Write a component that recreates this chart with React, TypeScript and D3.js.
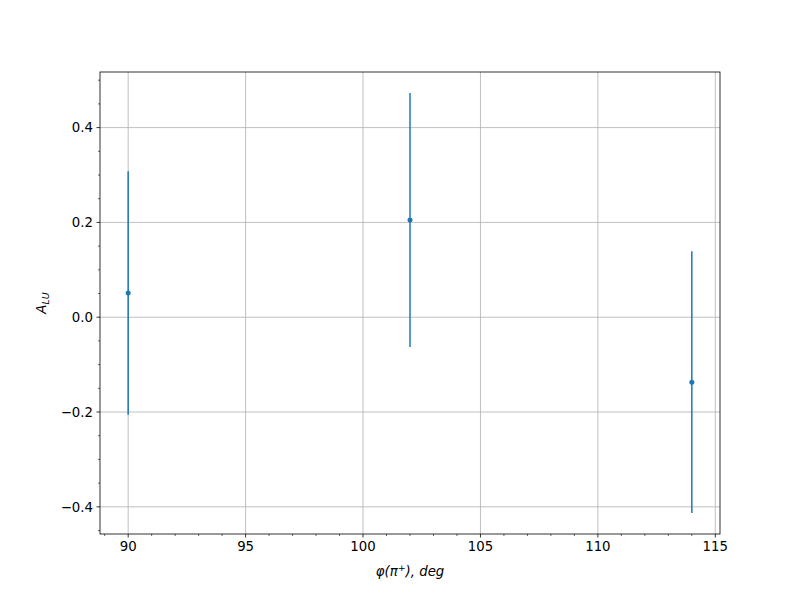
import React from "react";
import * as d3 from "d3";

const phi = [90, 102, 114];
const alu = [0.051, 0.205, -0.137];
const err = [0.257, 0.268, 0.276];
const xTicks = [90, 95, 100, 105, 110, 115];
const yTicks = [-0.4, -0.2, 0.0, 0.2, 0.4];

const W = 800, H = 600;
const L = 100, R = 720, T = 72, B = 534;
const C = "#1f77b4";

export default function App() {
  const x = d3.scaleLinear().domain([88.8, 115.2]).range([L, R]);
  const yMin = d3.min(alu.map((v, i) => v - err[i]))!;
  const yMax = d3.max(alu.map((v, i) => v + err[i]))!;
  const pad = (yMax - yMin) * 0.05;
  const y = d3.scaleLinear().domain([yMin - pad, yMax + pad]).range([B, T]);
  const xMinor = d3.range(89, 116, 1).filter((v) => v % 5 !== 0);
  const yMinor = d3.range(-0.45, 0.51, 0.05).filter((v) => Math.abs(Math.round(v * 20) % 4) !== 0 && v >= y.domain()[0] && v <= y.domain()[1]);
  const font = "DejaVu Sans, sans-serif";
  return (
    <svg width={W} height={H} style={{ position: "absolute", left: 0, top: 0 }} fontFamily={font}>
      <rect width={W} height={H} fill="white" />
      {xTicks.map((t) => (
        <line key={"gx" + t} x1={x(t)} x2={x(t)} y1={T} y2={B} stroke="#b0b0b0" strokeWidth={0.8} />
      ))}
      {yTicks.map((t) => (
        <line key={"gy" + t} x1={L} x2={R} y1={y(t)} y2={y(t)} stroke="#b0b0b0" strokeWidth={0.8} />
      ))}
      {phi.map((p, i) => (
        <g key={"e" + i}>
          <line x1={x(p)} x2={x(p)} y1={y(alu[i] - err[i])} y2={y(alu[i] + err[i])} stroke={C} strokeWidth={1.5} />
          <circle cx={x(p)} cy={y(alu[i])} r={2.5} fill={C} />
        </g>
      ))}
      <rect x={L} y={T} width={R - L} height={B - T} fill="none" stroke="black" strokeWidth={0.8} />
      {xTicks.map((t) => (
        <g key={"xt" + t}>
          <line x1={x(t)} x2={x(t)} y1={B} y2={B + 3.5} stroke="black" strokeWidth={0.8} />
          <text x={x(t)} y={B + 17} textAnchor="middle" fontSize={13.3}>{t}</text>
        </g>
      ))}
      {xMinor.map((t) => (
        <line key={"xm" + t} x1={x(t)} x2={x(t)} y1={B} y2={B + 2} stroke="black" strokeWidth={0.6} />
      ))}
      {yTicks.map((t) => (
        <g key={"yt" + t}>
          <line x1={L - 3.5} x2={L} y1={y(t)} y2={y(t)} stroke="black" strokeWidth={0.8} />
          <text x={L - 7} y={y(t) + 4.8} textAnchor="end" fontSize={13.3}>{d3.format(".1f")(t).replace("-", "\u2212")}</text>
        </g>
      ))}
      {yMinor.map((t, i) => (
        <line key={"ym" + i} x1={L - 2} x2={L} y1={y(t)} y2={y(t)} stroke="black" strokeWidth={0.6} />
      ))}
      <text x={(L + R) / 2} y={B + 42} textAnchor="middle" fontSize={13.3} fontStyle="italic">
        φ(π<tspan dy={-5} fontSize={9.5} fontStyle="normal">+</tspan><tspan dy={5}>), deg</tspan>
      </text>
      <text transform={`translate(46, ${(T + B) / 2}) rotate(-90)`} textAnchor="middle" fontSize={13.3} fontStyle="italic">
        A<tspan dy={3} fontSize={9.5}>LU</tspan>
      </text>
    </svg>
  );
}
